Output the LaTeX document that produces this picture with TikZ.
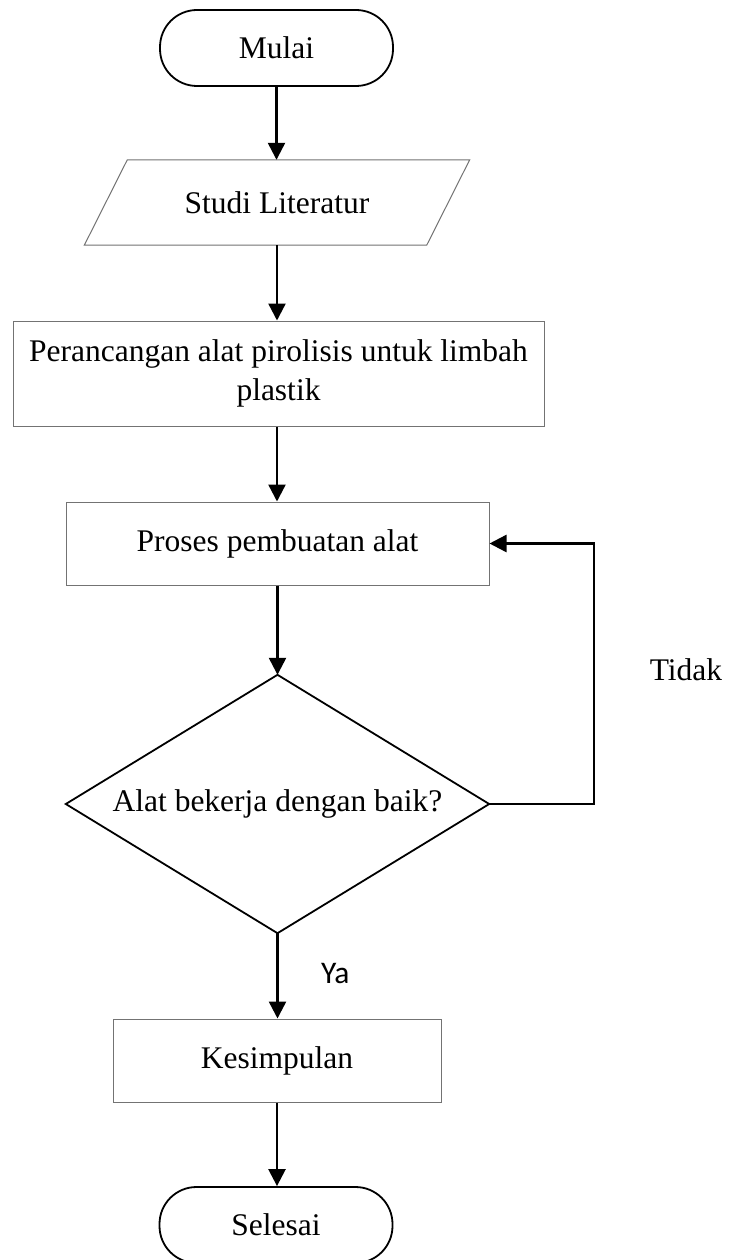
\documentclass[tikz,border=0pt]{standalone}
\usepackage{fontspec}
\setmainfont{Liberation Serif}
\newfontfamily\yafont{Carlito}
\usetikzlibrary{arrows.meta}
\begin{document}
\begin{tikzpicture}[x=1pt,y=-1pt,
  every node/.style={font=\fontsize{31.5}{39}\selectfont, inner sep=0pt},
  term/.style={draw=black, line width=1.8pt, rounded corners=37pt, minimum width=233pt, minimum height=76pt},
  procbox/.style={draw=black!55, line width=1pt, minimum height=83pt},
  ghost/.style={draw=none},
  thinline/.style={draw=black!55, line width=1pt},
  thickline/.style={draw=black, line width=1.8pt},
  arr/.style={draw=black, line width=2.4pt, -{Triangle[length=17pt,width=17pt]}},
  lbl/.style={anchor=base}
]
\useasboundingbox (0,0) rectangle (729,1260);
\fill[white] (0,0) rectangle (729,1260);

\node[term] (mulai) at (276.5,48) {Mulai};
\node[ghost, minimum width=342pt, minimum height=85pt] (studi) at (277,202.5) {Studi Literatur};
\draw[thinline] ([xshift=21.5pt]studi.north west) -- ([xshift=21.5pt]studi.north east)
  -- ([xshift=-21.5pt]studi.south east) -- ([xshift=-21.5pt]studi.south west) -- cycle;
\node[procbox, minimum width=531pt, minimum height=105pt, align=center] (peran) at (278.5,373.5)
  {Perancangan alat pirolisis untuk limbah\\plastik};
\node[procbox, minimum width=423pt] (proses) at (277.5,543.5) {Proses pembuatan alat};
\node[ghost, minimum width=423pt, minimum height=258pt] (dec) at (277.5,804) {Alat bekerja dengan baik?};
\draw[thickline] (dec.north) -- (dec.east) -- (dec.south) -- (dec.west) -- cycle;
\node[procbox, minimum width=328pt] (kes) at (277,1060.5) {Kesimpulan};
\node[term] (selesai) at (276,1225) {Selesai};

\draw[arr] (mulai.south) -- (mulai.south |- studi.north);
\draw[arr] (studi.south) -- (studi.south |- peran.north);
\draw[arr] (peran.south -| studi.south) -- (studi.south |- proses.north);
\draw[arr] (proses.south) -- (dec.north);
\draw[arr] (dec.south) -- (dec.south |- kes.north);
\draw[arr] (kes.south) -- (kes.south |- selesai.north);
\coordinate (loopc) at (594,804);
\draw[arr] (dec.east) -- (loopc) |- (proses.east);

\node[lbl] (tidak) at (686,680) {Tidak};
\node[lbl, anchor=base west, font=\yafont\fontsize{31.5}{39}\selectfont] (ya) at (321,983) {Ya};
\end{tikzpicture}
\end{document}
